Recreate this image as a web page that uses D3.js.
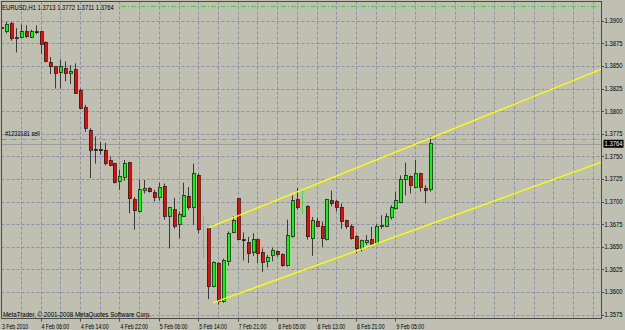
<!DOCTYPE html>
<html>
<head>
<meta charset="utf-8">
<script src="https://cdn.jsdelivr.net/npm/d3@7"></script>
<style>
html, body { margin: 0; padding: 0; background: #bfc0b2; }
svg { display: block; }
text { font-family: "Liberation Sans", Arial, sans-serif; font-size: 7px; fill: #000; }
</style>
</head>
<body>
<div id="chart"></div>
<script>
// EURUSD H1 candles, one entry per bar (index 0 = left edge)
const opens  = [1.3893,1.3888,1.3897,1.3880,1.3882,1.3888,1.3882,1.3888,1.3888,1.3876,
                1.3854,1.3849,1.3843,1.3847,1.3842,1.3846,1.3823,1.3804,1.3779,1.3758,
                1.3758,1.3757,1.3746,1.3742,1.3722,1.3727,1.3743,1.3702,1.3689,1.3712,
                1.3715,1.3710,1.3704,1.3717,1.3684,1.3691,1.3675,1.3684,1.3706,1.3693,
                1.3729,1.3637,1.3670,1.3606,1.3632,1.3589,1.3634,1.3666,1.3703,1.3658,
                1.3655,1.3644,1.3658,1.3644,1.3634,1.3640,1.3645,1.3641,1.3629,1.3661,
                1.3702,1.3686,1.3695,1.3659,1.3678,1.3673,1.3658,1.3701,1.3700,1.3694,
                1.3679,1.3673,1.3661,1.3648,1.3655,1.3658,1.3654,1.3672,1.3673,1.3682,
                1.3692,1.3699,1.3724,1.3728,1.3716,1.3731,1.3715,1.3713];
const highs  = [1.3894,1.3899,1.3899,1.3892,1.3896,1.3895,1.3890,1.3895,1.3889,1.3877,
                1.3860,1.3849,1.3857,1.3855,1.3851,1.3853,1.3825,1.3807,1.3781,1.3772,
                1.3766,1.3765,1.3750,1.3743,1.3735,1.3746,1.3744,1.3705,1.3724,1.3724,
                1.3716,1.3713,1.3721,1.3720,1.3694,1.3704,1.3689,1.3721,1.3716,1.3742,
                1.3731,1.3684,1.3672,1.3634,1.3633,1.3637,1.3667,1.3684,1.3704,1.3666,
                1.3661,1.3665,1.3659,1.3648,1.3641,1.3649,1.3646,1.3643,1.3680,1.3707,
                1.3715,1.3712,1.3696,1.3683,1.3682,1.3678,1.3703,1.3712,1.3702,1.3698,
                1.3680,1.3675,1.3663,1.3658,1.3663,1.3672,1.3675,1.3685,1.3687,1.3696,
                1.3711,1.3729,1.3743,1.3729,1.3746,1.3732,1.3718,1.3772];
const lows   = [1.3890,1.3886,1.3878,1.3865,1.3881,1.3881,1.3881,1.3885,1.3863,1.3854,
                1.3841,1.3825,1.3825,1.3833,1.3830,1.3819,1.3802,1.3777,1.3726,1.3742,
                1.3752,1.3740,1.3739,1.3720,1.3713,1.3723,1.3687,1.3669,1.3688,1.3709,
                1.3710,1.3700,1.3701,1.3680,1.3648,1.3670,1.3659,1.3683,1.3691,1.3674,
                1.3665,1.3637,1.3592,1.3605,1.3586,1.3588,1.3629,1.3665,1.3657,1.3635,
                1.3632,1.3640,1.3632,1.3622,1.3627,1.3634,1.3639,1.3628,1.3628,1.3660,
                1.3691,1.3686,1.3658,1.3640,1.3672,1.3650,1.3657,1.3695,1.3689,1.3670,
                1.3670,1.3658,1.3643,1.3645,1.3652,1.3652,1.3653,1.3670,1.3672,1.3680,
                1.3691,1.3698,1.3707,1.3709,1.3715,1.3711,1.3698,1.3711];
const closes = [1.3891,1.3896,1.3880,1.3881,1.3888,1.3883,1.3888,1.3888,1.3874,1.3855,
                1.3849,1.3842,1.3849,1.3842,1.3844,1.3820,1.3803,1.3781,1.3757,1.3758,
                1.3756,1.3742,1.3740,1.3721,1.3728,1.3742,1.3703,1.3690,1.3713,1.3714,
                1.3711,1.3705,1.3716,1.3684,1.3693,1.3673,1.3686,1.3707,1.3693,1.3731,
                1.3669,1.3684,1.3606,1.3633,1.3589,1.3635,1.3665,1.3679,1.3658,1.3658,
                1.3643,1.3658,1.3643,1.3633,1.3638,1.3646,1.3642,1.3629,1.3662,1.3701,
                1.3693,1.3712,1.3661,1.3679,1.3673,1.3659,1.3702,1.3698,1.3694,1.3678,
                1.3673,1.3659,1.3648,1.3657,1.3657,1.3653,1.3673,1.3674,1.3683,1.3694,
                1.3701,1.3725,1.3729,1.3718,1.3731,1.3716,1.3712,1.3764];
// bars drawn as a bare thin line
const thinBars = [41, 61];

const priceTicks = [1.3575,1.3600,1.3625,1.3650,1.3675,1.3700,1.3725,1.3750,1.3775,1.3800,1.3825,1.3850,1.3875,1.3900];
const timeLabels = ["3 Feb 2010","4 Feb 06:00","4 Feb 14:00","4 Feb 22:00","5 Feb 06:00","5 Feb 14:00",
                    "7 Feb 21:00","8 Feb 05:00","8 Feb 13:00","8 Feb 21:00","9 Feb 05:00"];
const timeLabelBars = [0, 8, 16, 24, 32, 40, 48, 56, 64, 72, 80];

// trend lines: [bar, price] anchors, extended to the right edge
const upperLine = [[42, 1.3671], [87, 1.3770]];
const lowerLine = [[43, 1.3588], [87, 1.3675]];

const sellLevel = 1.3769;
const topLevel = 1.3916;
const bid = 1.3764;

const W = 625, H = 330;
const pLeft = 1.5, pTop = 1.5, pRight = 601.5, pBottom = 318.5;

const svg = d3.select("#chart")
    .append("svg")
    .attr("width", W)
    .attr("height", H);

const x = d3.scaleLinear().domain([0, 120]).range([1.06, 592.7]);
const y = d3.scaleLinear().domain([1.3575, 1.3900]).range([314.6, 20.8]);
const px = v => Math.round(v) + 0.5;
// the terminal font is narrow: squeeze text horizontally
const at = (tx, ty, s) => "translate(" + tx + "," + ty + ") scale(" + s + ",1)";

svg.append("clipPath").attr("id", "clip")
    .append("rect")
    .attr("x", pLeft).attr("y", pTop)
    .attr("width", pRight - pLeft).attr("height", pBottom - pTop);

// grid
const grid = svg.append("g")
    .attr("stroke", "#8e90a6")
    .attr("stroke-width", 1)
    .attr("stroke-dasharray", "3,2");

grid.selectAll("line.h")
    .data(priceTicks)
    .join("line")
    .attr("class", "h")
    .attr("x1", pLeft).attr("x2", pRight)
    .attr("y1", d => px(y(d))).attr("y2", d => px(y(d)));

grid.selectAll("line.v")
    .data(d3.range(4, 121, 4))
    .join("line")
    .attr("class", "v")
    .attr("y1", pTop).attr("y2", pBottom)
    .attr("x1", d => px(x(d))).attr("x2", d => px(x(d)));

const plot = svg.append("g").attr("clip-path", "url(#clip)");

// bid line
plot.append("line")
    .attr("x1", pLeft).attr("x2", pRight)
    .attr("y1", px(y(bid))).attr("y2", px(y(bid)))
    .attr("stroke", "#9c9c98").attr("stroke-width", 1);

// order lines (dash-dot)
plot.append("line")
    .attr("x1", pLeft).attr("x2", pRight)
    .attr("y1", px(y(sellLevel))).attr("y2", px(y(sellLevel)))
    .attr("stroke", "#3fcf3f").attr("stroke-dasharray", "5,2,1,2");

plot.append("line")
    .attr("x1", 121).attr("x2", pRight)
    .attr("y1", px(y(topLevel))).attr("y2", px(y(topLevel)))
    .attr("stroke", "#3fcf3f").attr("stroke-dasharray", "5,2,1,2");

// candles
const bars = d3.range(opens.length);
const candles = plot.append("g")
    .selectAll("g")
    .data(bars)
    .join("g");

candles.filter(i => !thinBars.includes(i))
    .append("line")
    .attr("x1", i => px(x(i))).attr("x2", i => px(x(i)))
    .attr("y1", i => y(highs[i])).attr("y2", i => y(lows[i]))
    .attr("stroke", "#3a3a3a").attr("stroke-width", 1);

candles.filter(i => !thinBars.includes(i))
    .append("rect")
    .attr("x", i => Math.round(x(i)) - 1)
    .attr("y", i => y(Math.max(opens[i], closes[i])))
    .attr("width", 3)
    .attr("height", i => Math.max(1, Math.abs(y(opens[i]) - y(closes[i]))))
    .attr("fill", i => closes[i] > opens[i] ? "#00ff00" : closes[i] < opens[i] ? "#ff0000" : "#222")
    .attr("stroke", "#222")
    .attr("stroke-width", 0.8)
    .attr("shape-rendering", "crispEdges");

candles.filter(i => thinBars.includes(i))
    .append("line")
    .attr("x1", i => px(x(i))).attr("x2", i => px(x(i)))
    .attr("y1", i => y(highs[i])).attr("y2", i => y(lows[i]))
    .attr("stroke", "#44dd44").attr("stroke-width", 1);

// trend lines
const xEnd = x.invert(pRight);
function extend(pts) {
    const [a, b] = pts;
    const slope = (b[1] - a[1]) / (b[0] - a[0]);
    return [a, [xEnd, a[1] + slope * (xEnd - a[0])]];
}
[upperLine, lowerLine].forEach(pts => {
    plot.append("path")
        .attr("d", d3.line().x(d => x(d[0])).y(d => y(d[1]))(extend(pts)))
        .attr("fill", "none")
        .attr("stroke", "#ffff00")
        .attr("stroke-width", 1.3);
});

// frame
svg.append("rect")
    .attr("x", pLeft).attr("y", pTop)
    .attr("width", pRight - pLeft).attr("height", pBottom - pTop)
    .attr("fill", "none").attr("stroke", "#4a4a4a");

// price axis
const yAxis = svg.append("g");
yAxis.selectAll("line")
    .data(priceTicks)
    .join("line")
    .attr("x1", pRight).attr("x2", pRight + 2.5)
    .attr("y1", d => px(y(d))).attr("y2", d => px(y(d)))
    .attr("stroke", "#4a4a4a");
yAxis.selectAll("text")
    .data(priceTicks)
    .join("text")
    .attr("transform", d => at(pRight + 3, y(d), 0.84))
    .attr("dy", "0.35em")
    .text(d => d.toFixed(4));

svg.append("rect")
    .attr("x", pRight + 2).attr("y", y(bid) - 4)
    .attr("width", 20).attr("height", 8)
    .attr("fill", "#000");
svg.append("text")
    .attr("transform", at(pRight + 3, y(bid), 0.84))
    .attr("dy", "0.35em")
    .style("fill", "#fff")
    .text(bid.toFixed(4));

// time axis
const xAxis = svg.append("g");
xAxis.selectAll("line")
    .data(timeLabelBars.slice(1))
    .join("line")
    .attr("x1", d => px(x(d))).attr("x2", d => px(x(d)))
    .attr("y1", pBottom).attr("y2", pBottom + 3)
    .attr("stroke", "#4a4a4a");
xAxis.selectAll("text")
    .data(timeLabels)
    .join("text")
    .attr("transform", (d, i) => at(i === 0 ? 2 : x(timeLabelBars[i]) + 1, 328.5, 0.74))
    .text(d => d);

// labels
svg.append("text").attr("transform", at(2, 9.5, 0.84))
    .text("EURUSD,H1 1.3713 1.3772 1.3711 1.3764");
svg.append("text").attr("transform", at(5, 136, 0.8))
    .text("#1233181 sell");
svg.append("text").attr("transform", at(3, 316.5, 0.88))
    .text("MetaTrader, \u00a9 2001-2008 MetaQuotes Software Corp.");
</script>
</body>
</html>
